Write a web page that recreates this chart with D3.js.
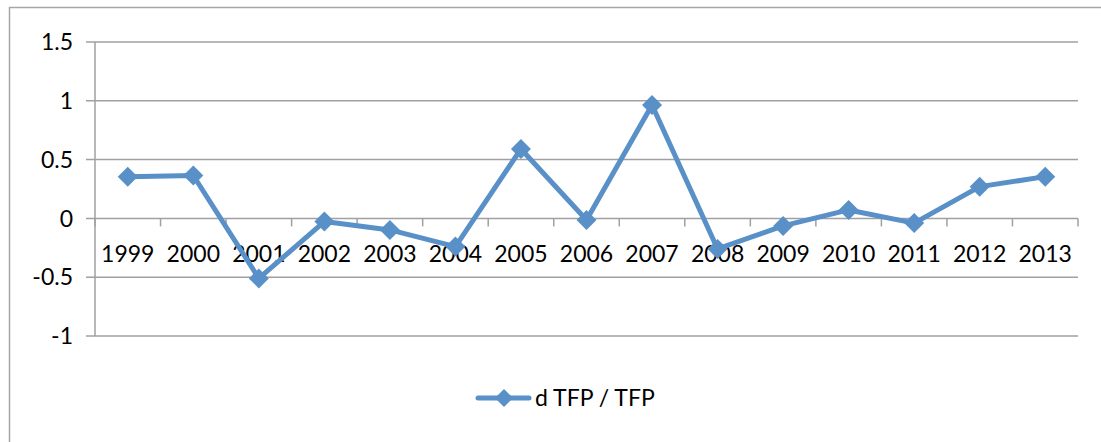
<!DOCTYPE html>
<html>
<head>
<meta charset="utf-8">
<script src="https://cdn.jsdelivr.net/npm/d3@7"></script>
<style>
  body { margin: 0; background: #fff; }
  svg text { font-family: Lato, "Open Sans", sans-serif; fill: #000; }
</style>
</head>
<body>
<svg id="canvas" width="1101" height="442"></svg>
<script>
// data
let years = ['1999','2000','2001','2002','2003','2004','2005','2006','2007','2008','2009','2010','2011','2012','2013']
let tfpValues = [0.355, 0.365, -0.51, -0.027, -0.098, -0.24, 0.59, -0.013, 0.965, -0.26, -0.064, 0.072, -0.04, 0.27, 0.355]
let yTicks = [-1, -0.5, 0, 0.5, 1, 1.5]
let seriesName = 'd TFP / TFP'

let canvas = d3.select('#canvas')
let blue = '#5990c8'
let grid = '#a0a0a0'

// outer chart frame (runs past the right/bottom edge)
canvas.append('rect')
    .attr('x', 9.5).attr('y', 7.5)
    .attr('width', 1200).attr('height', 600)
    .attr('fill', 'none').attr('stroke', '#a6a6a6').attr('stroke-width', 1.5)

let left = 95, right = 1078
let xScale = d3.scaleBand().domain(years).range([left, right])
let yScale = d3.scaleLinear().domain([-1, 1.5]).range([336, 42])

// gridlines + y labels
yTicks.forEach((t) => {
    canvas.append('line')
        .attr('x1', left - 9).attr('x2', right)
        .attr('y1', yScale(t)).attr('y2', yScale(t))
        .attr('stroke', grid).attr('stroke-width', 1.5)
    canvas.append('text')
        .attr('x', 73).attr('y', yScale(t))
        .attr('dy', '0.36em')
        .attr('text-anchor', 'end')
        .style('font-size', '23px')
        .text(t)
})

// y axis line
canvas.append('line')
    .attr('x1', left).attr('x2', left)
    .attr('y1', yScale(1.5)).attr('y2', yScale(-1))
    .attr('stroke', grid).attr('stroke-width', 1.5)

// category axis at zero with tick marks at band edges
let y0 = yScale(0)
let edges = years.map((y) => xScale(y)).concat([right])
edges.forEach((x) => {
    canvas.append('line')
        .attr('x1', x).attr('x2', x)
        .attr('y1', y0).attr('y2', y0 + 8)
        .attr('stroke', grid).attr('stroke-width', 1.5)
})

canvas.selectAll('.xlab')
    .data(years)
    .enter()
    .append('text')
    .attr('class', 'xlab')
    .attr('x', (d) => xScale(d) + xScale.bandwidth() / 2)
    .attr('y', y0 + 44)
    .attr('text-anchor', 'middle')
    .style('font-size', '23px')
    .text((d) => d)

// series line
let line = d3.line()
    .x((d, i) => xScale(years[i]) + xScale.bandwidth() / 2)
    .y((d) => yScale(d))

canvas.append('path')
    .datum(tfpValues)
    .attr('d', line)
    .attr('fill', 'none')
    .attr('stroke', blue)
    .attr('stroke-width', 5)
    .attr('stroke-linejoin', 'round')

let diamond = 'M0,-10L10,0L0,10L-10,0Z'

canvas.selectAll('.marker')
    .data(tfpValues)
    .enter()
    .append('path')
    .attr('class', 'marker')
    .attr('d', diamond)
    .attr('fill', blue)
    .attr('transform', (d, i) => 'translate(' + (xScale(years[i]) + xScale.bandwidth() / 2) + ',' + yScale(d) + ')')

// legend
let legend = canvas.append('g').attr('transform', 'translate(0,398)')
legend.append('line')
    .attr('x1', 478).attr('x2', 529)
    .attr('stroke', blue).attr('stroke-width', 5).attr('stroke-linecap', 'round')
legend.append('path')
    .attr('d', diamond)
    .attr('fill', blue)
    .attr('transform', 'translate(504,0) scale(0.9)')
legend.append('text')
    .attr('x', 535).attr('dy', '0.36em')
    .style('font-size', '23px')
    .text(seriesName)
</script>
</body>
</html>
